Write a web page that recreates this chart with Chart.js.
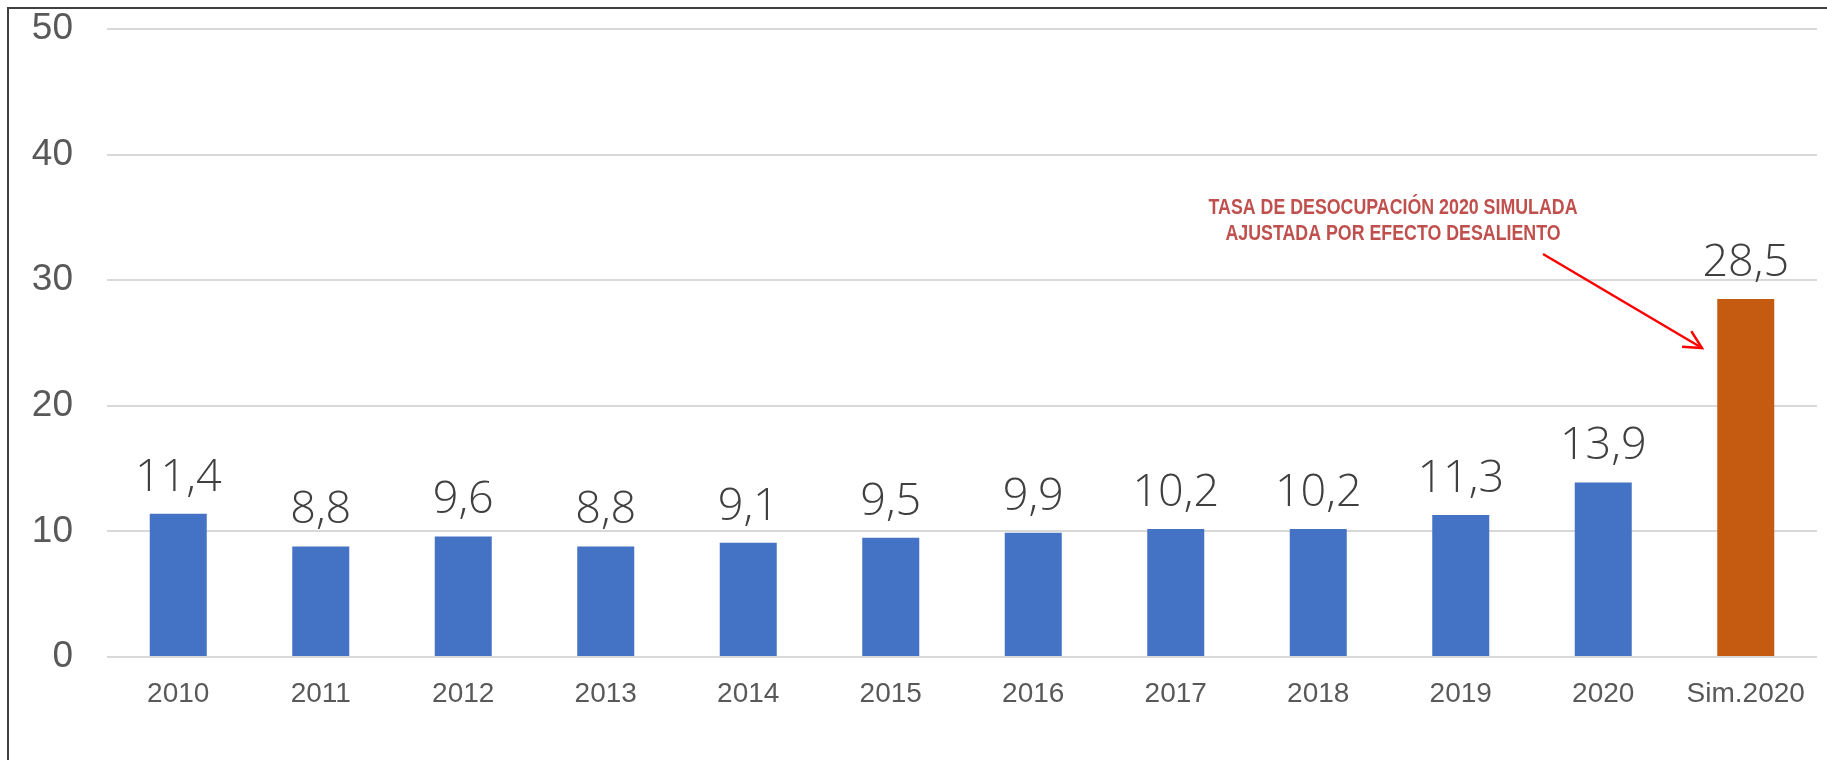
<!DOCTYPE html>
<html>
<head>
<meta charset="utf-8">
<script src="https://cdn.jsdelivr.net/npm/chart.js@4/dist/chart.umd.min.js"></script>
<style>
  html, body { margin: 0; padding: 0; background: #ffffff; }
  #wrap { width: 1827px; height: 760px; }
</style>
</head>
<body>
<div id="wrap"><canvas id="c" width="1827" height="760"></canvas></div>
<script>
const categories = ['2010','2011','2012','2013','2014','2015','2016','2017','2018','2019','2020','Sim.2020'];
const values = [11.4, 8.8, 9.6, 8.8, 9.1, 9.5, 9.9, 10.2, 10.2, 11.3, 13.9, 28.5];
const barColors = ['#4472C4','#4472C4','#4472C4','#4472C4','#4472C4','#4472C4','#4472C4','#4472C4','#4472C4','#4472C4','#4472C4','#C55A11'];
const yTicks = [0, 10, 20, 30, 40, 50];
const annotationLines = ['TASA DE DESOCUPACIÓN 2020 SIMULADA', 'AJUSTADA POR EFECTO DESALIENTO'];

const framePlugin = {
  id: 'frame',
  afterDraw(chart) {
    const ctx = chart.ctx;
    ctx.save();
    ctx.strokeStyle = '#404040';
    ctx.lineWidth = 2;
    ctx.beginPath();
    ctx.moveTo(8, 760);
    ctx.lineTo(8, 8);
    ctx.lineTo(1827, 8);
    ctx.stroke();
    ctx.restore();
  }
};

const labelPlugin = {
  id: 'valueLabels',
  afterDatasetsDraw(chart) {
    const ctx = chart.ctx;
    const meta = chart.getDatasetMeta(0);
    ctx.save();
    ctx.font = '300 45px "Open Sans", "Noto Sans", sans-serif';
    ctx.fillStyle = '#404040';
    ctx.textAlign = 'center';
    ctx.textBaseline = 'alphabetic';
    meta.data.forEach((bar, i) => {
      const txt = values[i].toFixed(1).replace('.', ',');
      ctx.fillText(txt, bar.x, bar.y - 23);
    });
    ctx.restore();
  }
};

const annotationPlugin = {
  id: 'annotation',
  afterDraw(chart) {
    const ctx = chart.ctx;
    ctx.save();
    ctx.fillStyle = '#C0504D';
    ctx.font = 'bold 22px "Liberation Sans", Arial, sans-serif';
    ctx.textAlign = 'center';
    ctx.textBaseline = 'alphabetic';
    const w0 = ctx.measureText(annotationLines[0]).width;
    const sx = 369 / w0;
    const cx = 1393;
    const baselines = [214, 240];
    annotationLines.forEach((t, i) => {
      ctx.save();
      ctx.translate(cx, baselines[i]);
      ctx.scale(sx, 1);
      ctx.fillText(t, 0, 0);
      ctx.restore();
    });
    const x1 = 1543, y1 = 254, x2 = 1702, y2 = 348;
    ctx.strokeStyle = '#FF0000';
    ctx.lineWidth = 2.5;
    ctx.beginPath();
    ctx.moveTo(x1, y1);
    ctx.lineTo(x2, y2);
    ctx.stroke();
    const ang = Math.atan2(y1 - y2, x1 - x2);
    const len = 20, spread = 27 * Math.PI / 180;
    ctx.beginPath();
    ctx.moveTo(x2 + len * Math.cos(ang - spread), y2 + len * Math.sin(ang - spread));
    ctx.lineTo(x2, y2);
    ctx.lineTo(x2 + len * Math.cos(ang + spread), y2 + len * Math.sin(ang + spread));
    ctx.stroke();
    ctx.restore();
  }
};

new Chart(document.getElementById('c'), {
  type: 'bar',
  data: {
    labels: categories,
    datasets: [{
      data: values,
      backgroundColor: barColors,
      borderWidth: 0,
      categoryPercentage: 1.0,
      barPercentage: 0.4
    }]
  },
  options: {
    responsive: false,
    devicePixelRatio: 1,
    animation: false,
    layout: { padding: { top: 29, right: 10, left: 0, bottom: 0 } },
    plugins: { legend: { display: false }, tooltip: { enabled: false } },
    scales: {
      x: {
        grid: { display: false, drawTicks: false },
        border: { display: false },
        ticks: {
          color: '#595959',
          font: { family: '"Liberation Sans", Arial, sans-serif', size: 28 },
          padding: 20,
          maxRotation: 0,
          autoSkip: false
        },
        afterFit(scale) { scale.height = 103; scale.paddingLeft = 0; scale.paddingRight = 0; }
      },
      y: {
        min: 0,
        max: 50,
        afterBuildTicks(scale) { scale.ticks = yTicks.map(v => ({ value: v })); },
        grid: { color: '#D9D9D9', lineWidth: 2, drawTicks: false },
        border: { display: false },
        ticks: {
          color: '#595959',
          font: { family: '"Liberation Sans", Arial, sans-serif', size: 37 },
          padding: 34
        },
        afterFit(scale) { scale.width = 107; scale.paddingTop = 0; scale.paddingBottom = 0; }
      }
    }
  },
  plugins: [framePlugin, labelPlugin, annotationPlugin]
});
</script>
</body>
</html>
